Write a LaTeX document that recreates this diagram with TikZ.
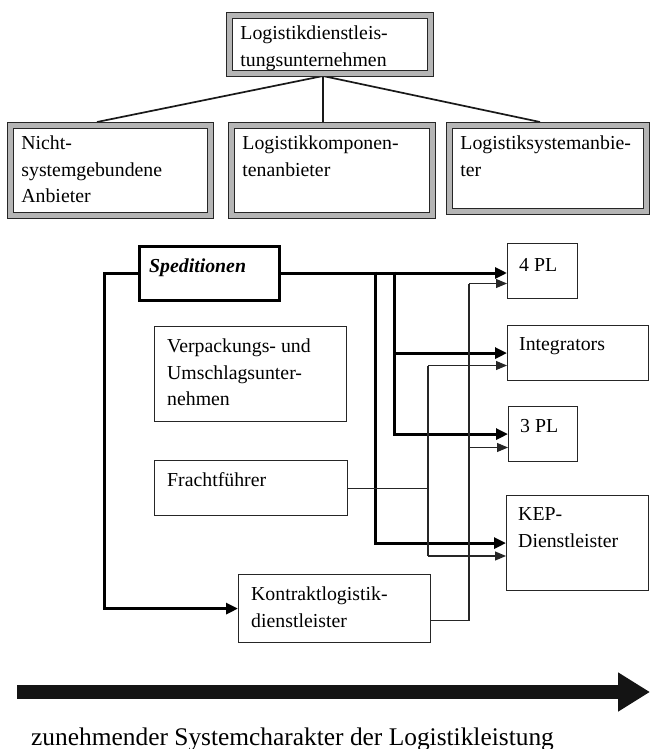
\documentclass[tikz,border=0pt]{standalone}
\usepackage{fontspec}
\setmainfont{Liberation Serif}
\usetikzlibrary{arrows.meta}

\begin{document}
\begin{tikzpicture}[x=1pt,y=-1pt,
  framed/.style={draw=black!85, line width=1pt, double=gray!58, double distance=4.6pt,
                 fill=white, inner sep=0pt, anchor=north west},
  plainbox/.style={draw=black!85, line width=1.2pt, fill=white, inner sep=0pt, anchor=north west},
  boldbox/.style={draw=black, line width=3pt, fill=white, inner sep=0pt, anchor=north west},
  boxtext/.style={anchor=north west, inner sep=0pt, align=left, text=black,
                  font=\fontsize{19.8}{26.5}\selectfont},
  treeline/.style={draw=black!90, line width=1.7pt},
  heavy/.style={draw=black, line width=3pt, -{Triangle[length=12pt,width=11pt]}},
  heavyline/.style={draw=black, line width=3pt},
  light/.style={draw=black!85, line width=1.1pt, -{Triangle[length=11pt,width=9pt]}},
  lightline/.style={draw=black!85, line width=1.1pt},
]
\useasboundingbox (0,0) rectangle (650,749);
\fill[white] (0,0) rectangle (650,749);

% --- hierarchy at the top ---
\coordinate (hub)   at (323,76);
\coordinate (nsaIn) at (97,122);
\coordinate (lktIn) at (323,122);
\coordinate (lsaIn) at (540,122);
\draw[treeline] (hub) -- (nsaIn);
\draw[treeline] (hub) -- (lktIn);
\draw[treeline] (hub) -- (lsaIn);

\node[framed, minimum width=200.6pt, minimum height=57.6pt] (top) at (229.2,15.2) {};
\node[boxtext] (topT) at ([xshift=11pt,yshift=-10.5pt]top.north west) {Logistikdienstleis-\\tungsunternehmen};

\node[framed, minimum width=199.6pt, minimum height=89.6pt] (nsa) at (10.2,125.2) {};
\node[boxtext] (nsaT) at ([xshift=11pt,yshift=-10.5pt]nsa.north west) {Nicht-\\systemgebundene\\Anbieter};

\node[framed, minimum width=200.6pt, minimum height=89.6pt] (lkt) at (231.2,125.2) {};
\node[boxtext] (lktT) at ([xshift=11pt,yshift=-10.5pt]lkt.north west) {Logistikkomponen-\\tenanbieter};

\node[framed, minimum width=196.6pt, minimum height=85.6pt] (lsa) at (449.2,125.2) {};
\node[boxtext] (lsaT) at ([xshift=11pt,yshift=-10.5pt]lsa.north west) {Logistiksystemanbie-\\ter};

% --- providers ---
\node[boldbox, minimum width=140pt, minimum height=54pt] (spd) at (137.5,244.5) {};
\node[boxtext, font=\fontsize{19.8}{26.5}\selectfont\bfseries\itshape] (spdT)
  at ([xshift=11.5pt,yshift=-14pt]spd.north west) {Speditionen};

\node[plainbox, minimum width=192pt, minimum height=95pt] (vpu) at (154,326) {};
\node[boxtext] (vpuT) at ([xshift=13pt,yshift=-12.7pt]vpu.north west) {Verpackungs- und\\Umschlagsunter-\\nehmen};

\node[plainbox, minimum width=193pt, minimum height=55pt] (fra) at (154,460) {};
\node[boxtext] (fraT) at ([xshift=13pt,yshift=-12.7pt]fra.north west) {Frachtführer};

\node[plainbox, minimum width=192pt, minimum height=68pt] (kon) at (238,574) {};
\node[boxtext] (konT) at ([xshift=13pt,yshift=-12.7pt]kon.north west) {Kontraktlogistik-\\dienstleister};

\node[plainbox, minimum width=70pt, minimum height=55pt] (pl4) at (507,243) {};
\node[boxtext] (pl4T) at ([xshift=12pt,yshift=-15pt]pl4.north west) {4 PL};

\node[plainbox, minimum width=141pt, minimum height=55pt] (int) at (507,325) {};
\node[boxtext] (intT) at ([xshift=12pt,yshift=-12.7pt]int.north west) {Integrators};

\node[plainbox, minimum width=69pt, minimum height=55pt] (pl3) at (508,406) {};
\node[boxtext] (pl3T) at ([xshift=12pt,yshift=-13pt]pl3.north west) {3 PL};

\node[plainbox, minimum width=142pt, minimum height=95pt] (kep) at (506,495) {};
\node[boxtext] (kepT) at ([xshift=12pt,yshift=-12.7pt]kep.north west) {KEP-\\Dienstleister};

% --- heavy links from the forwarders ---
\draw[heavy] (spd.west) -- ++(-33.5,0) |- (kon.west);
\draw[heavy] (spd.east) -- (spd.east -| pl4.west);
\coordinate (j1) at (375,271.5);
\coordinate (j2) at (394,271.5);
\draw[heavy] (j1) |- (kep.west);
\draw[heavy] (j2) |- (pl3.west);
\draw[heavy] (j2 |- int.west) -- (int.west);

% --- thin links ---
\coordinate (v1top) at (428,365.5);
\coordinate (v1bot) at (428,556);
\draw[lightline] (v1top) -- (v1bot);
\draw[lightline] (fra.east) -- (fra.east -| v1top);
\draw[light] (v1top) -- (int.west |- v1top);
\draw[light] (v1bot) -- (kep.west |- v1bot);

\coordinate (v2top) at (469,283.5);
\coordinate (v2mid) at (469,447.5);
\draw[lightline] ([yshift=-12pt]kon.east) -| (v2top);
\draw[light] (v2top) -- (pl4.west |- v2top);
\draw[light] (v2mid) -- (pl3.west |- v2mid);

% --- axis arrow and caption ---
\coordinate (axL) at (17,692);
\coordinate (axR) at (650,692);
\draw[draw=black!92, line width=14pt, -{Triangle[length=32pt,width=37pt]}] (axL) -- (axR);
\node[anchor=base west, inner sep=0pt, text=black, font=\fontsize{25.4}{30}\selectfont] (caption)
  at (31,745) {zunehmender Systemcharakter der Logistikleistung};
\end{tikzpicture}
\end{document}
